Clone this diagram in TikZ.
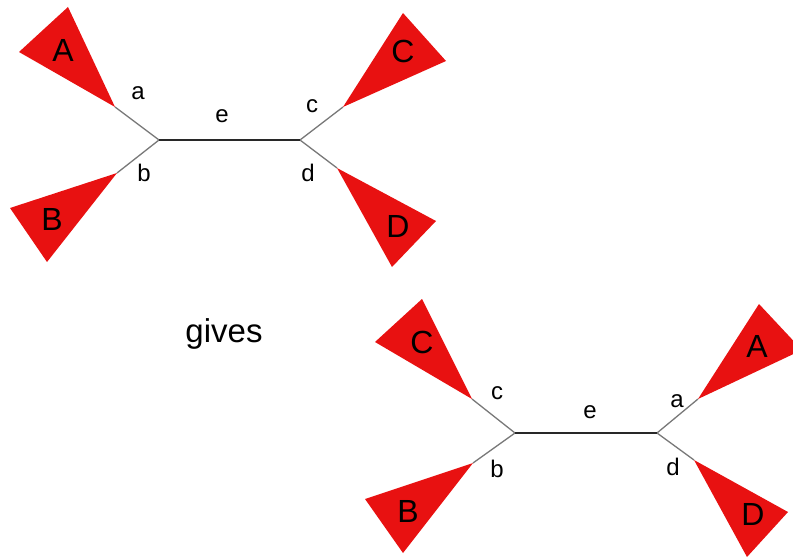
\documentclass[tikz,border=0pt]{standalone}
\usepackage{fontspec}
\setmainfont{Liberation Sans}
\definecolor{cladered}{RGB}{232,17,17}
\definecolor{branchgray}{RGB}{120,120,120}
\definecolor{edgegray}{RGB}{40,40,40}
\tikzset{
  clade/.style={fill=cladered, draw=none},
  cladename/.style={anchor=base, inner sep=0pt, font=\fontsize{32}{36}\selectfont},
  branchname/.style={anchor=base, inner sep=0pt, font=\fontsize{24}{28}\selectfont},
  branch/.style={draw=branchgray, line width=1.3pt},
  inner/.style={draw=edgegray, line width=1.6pt},
  junction/.style={coordinate}
}
\begin{document}
\begin{tikzpicture}[x=1pt,y=-1pt]
\useasboundingbox (0,0) rectangle (793,559);
\clip (0,0) rectangle (793,559);

% ---------- first tree ----------
\node[junction] (l1) at (159,140) {};
\node[junction] (r1) at (300,140) {};
\coordinate (tA) at (115,107);
\coordinate (tB) at (117,173);
\coordinate (tC) at (343,107);
\coordinate (tD) at (337,168);

\fill[clade] (tA) -- (19,52) -- (68,7) -- cycle;
\fill[clade] (tB) -- (10,208) -- (47,262) -- cycle;
\fill[clade] (tC) -- (403,13) -- (446,61) -- cycle;
\fill[clade] (tD) -- (436,221) -- (392,267) -- cycle;

\draw[branch] (l1) -- (tA);
\draw[branch] (l1) -- (tB);
\draw[branch] (r1) -- (tC);
\draw[branch] (r1) -- (tD);
\draw[inner] (l1) -- (r1);

\node[cladename] (nA) at (63,62) {A};
\node[cladename] (nB) at (52,230) {B};
\node[cladename] (nC) at (403,63) {C};
\node[cladename] (nD) at (398,237) {D};

\node[branchname] (ba) at (138,100) {a};
\node[branchname] (bb) at (144,182) {b};
\node[branchname] (bc) at (312,113) {c};
\node[branchname] (bd) at (308,182) {d};
\node[branchname] (be) at (222,123) {e};

% ---------- caption ----------
\node[anchor=base, inner sep=0pt, font=\fontsize{33}{38}\selectfont] (gives) at (224,342) {gives};

% ---------- second tree ----------
\node[junction] (l2) at (515,433) {};
\node[junction] (r2) at (657,433) {};
\coordinate (uC) at (472,399);
\coordinate (uB) at (473,463);
\coordinate (uA) at (698,399);
\coordinate (uD) at (694,460);

\fill[clade] (uC) -- (375,342) -- (422,299) -- cycle;
\fill[clade] (uB) -- (365,499) -- (403,553) -- cycle;
\fill[clade] (uA) -- (759,304) -- (802,350) -- cycle;
\fill[clade] (uD) -- (788,512) -- (747,557) -- cycle;

\draw[branch] (l2) -- (uC);
\draw[branch] (l2) -- (uB);
\draw[branch] (r2) -- (uA);
\draw[branch] (r2) -- (uD);
\draw[inner] (l2) -- (r2);

\node[cladename] (mC) at (422,353) {C};
\node[cladename] (mB) at (408,522) {B};
\node[cladename] (mA) at (757,357) {A};
\node[cladename] (mD) at (753,525) {D};

\node[branchname] (cc) at (497,399) {c};
\node[branchname] (cb) at (497,477) {b};
\node[branchname] (ca) at (677,407) {a};
\node[branchname] (cd) at (673,475) {d};
\node[branchname] (ce) at (590,418) {e};
\end{tikzpicture}
\end{document}
